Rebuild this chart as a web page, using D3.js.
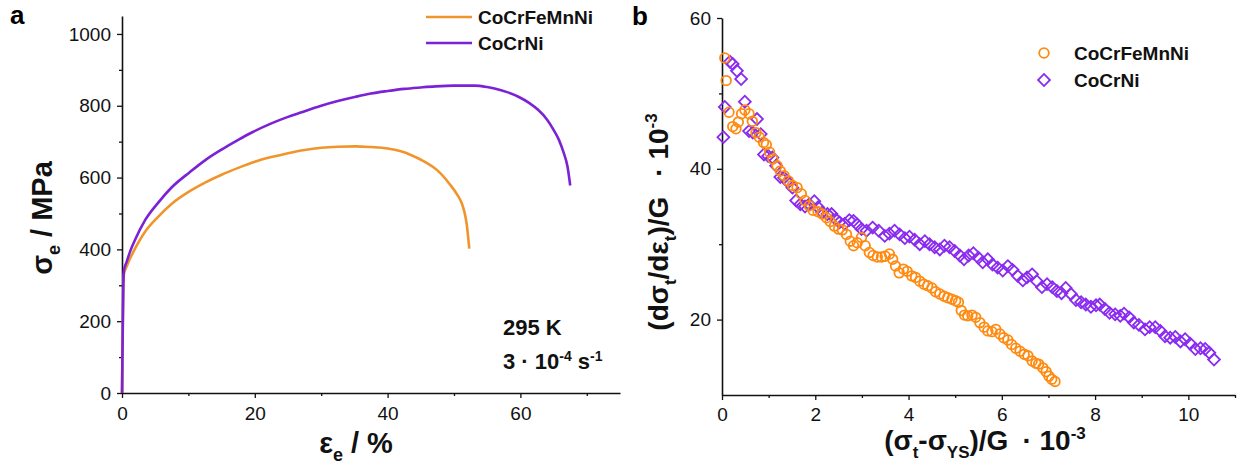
<!DOCTYPE html>
<html>
<head>
<meta charset="utf-8">
<script src="https://cdn.jsdelivr.net/npm/d3@7"></script>
<style>
  html, body { margin: 0; padding: 0; background: #fff; }
  svg { display: block; font-family: Arial, "Liberation Sans", sans-serif; }
</style>
</head>
<body>
<svg id="chart" width="1248" height="471"></svg>
<script>
// ---------- Data ----------
// Panel a: engineering stress-strain curves [strain %, stress MPa]
const seriesNames = ["CoCrFeMnNi", "CoCrNi"];
const curveCoCrFeMnNi = [
  [0, 0], [0.1, 150], [0.2, 290], [0.3, 332], [0.6, 348], [1.0, 366], [1.9, 400],
  [3.5, 450], [5.4, 490], [7.5, 527], [10.2, 562], [12.5, 586], [15, 608],
  [17.5, 627], [20, 644], [22.5, 657], [25, 668], [27.5, 677], [30, 683],
  [32.5, 686], [35.2, 687], [37.5, 685], [40, 681], [42, 673], [43.5, 663],
  [45.4, 646], [47.5, 620], [49.3, 583], [50.5, 552], [51.2, 527], [51.6, 502],
  [51.9, 472], [52.1, 440], [52.3, 402]
];
const curveCoCrNi = [
  [0, 0], [0.1, 160], [0.2, 300], [0.3, 342], [0.7, 365], [1.2, 393], [1.9, 424],
  [3.5, 482], [5.4, 529], [7.5, 573], [10.2, 615], [12.5, 648], [15, 678],
  [17.5, 705], [19.7, 727], [22.5, 751], [25, 769], [26.9, 781], [30, 800],
  [32.5, 813], [35.2, 825], [37.5, 834], [40, 841], [42.5, 847], [45, 851],
  [47.2, 854], [50, 856], [53.1, 856], [55, 852], [56.1, 848], [58, 838],
  [59.7, 825], [61.3, 808], [62.7, 788], [64, 762], [65, 733], [65.8, 705],
  [66.5, 670], [67.1, 630], [67.5, 578]
];
const xTicksA = [0, 20, 40, 60];
const xMinorA = [10, 30, 50, 70];
const yTicksA = [0, 200, 400, 600, 800, 1000];
const yMinorA = [100, 300, 500, 700, 900];

// Panel b: work hardening rate vs. flow stress increment
const ptsCoCrFeMnNi = [
  [0.06,54.7],[0.09,51.7],[0.15,47.5],[0.23,45.6],[0.30,45.3],[0.35,46.2],[0.42,47.3],
  [0.49,47.8],[0.58,47.3],[0.65,46.3],[0.73,44.8],[0.80,44.2],[0.89,43.5],[0.95,43.2],
  [1.02,42.2],[1.09,41.3],[1.18,40.4],[1.25,39.7],[1.33,39.1],[1.42,38.4],[1.51,37.8],
  [1.61,37.5],[1.70,36.7],[1.78,35.8],[1.87,35.1],[1.95,34.5],[2.06,34.3],[2.15,34.0],
  [2.24,33.5],[2.32,33.0],[2.41,32.4],[2.50,32.0],[2.58,31.9],[2.67,31.3],[2.75,30.4],
  [2.82,29.8],[2.90,30.2],[2.99,30.9],[3.07,29.8],[3.16,28.9],[3.24,28.5],[3.33,28.3],
  [3.42,28.3],[3.50,28.4],[3.59,28.7],[3.66,28.0],[3.72,27.1],[3.80,26.2],[3.89,26.7],
  [3.97,26.4],[4.07,25.8],[4.15,25.6],[4.24,25.1],[4.33,24.7],[4.41,24.5],[4.50,24.2],
  [4.58,23.7],[4.67,23.4],[4.76,23.1],[4.84,22.9],[4.93,22.7],[5.01,22.5],[5.07,22.3],
  [5.13,21.2],[5.20,20.6],[5.27,20.5],[5.36,20.6],[5.44,20.3],[5.53,19.6],[5.62,19.0],
  [5.70,18.5],[5.79,18.4],[5.87,18.7],[5.96,18.1],[6.04,17.6],[6.13,17.3],[6.21,16.7],
  [6.30,16.2],[6.39,15.8],[6.48,15.4],[6.56,15.2],[6.65,14.5],[6.73,14.2],[6.79,14.1],
  [6.88,13.6],[6.95,13.1],[7.01,12.5],[7.07,12.1],[7.14,11.8]
];
const ptsCoCrNi = [
  [0.03,44.2],[0.06,48.2],[0.17,54.2],[0.23,53.9],[0.32,53.0],[0.41,51.9],[0.49,48.9],
  [0.58,45.0],[0.66,44.8],[0.75,46.6],[0.83,44.6],[0.90,41.9],[0.99,41.7],[1.08,41.5],
  [1.16,40.4],[1.25,38.9],[1.33,38.8],[1.42,38.2],[1.51,37.5],[1.59,35.8],[1.68,35.3],
  [1.78,35.0],[1.87,35.3],[1.98,35.7],[2.06,34.9],[2.15,34.2],[2.26,34.0],[2.35,34.0],
  [2.44,33.3],[2.52,32.9],[2.63,32.7],[2.73,33.2],[2.82,33.1],[2.90,32.6],[2.99,32.0],
  [3.10,31.8],[3.23,32.2],[3.36,31.8],[3.49,31.1],[3.59,31.4],[3.70,31.8],[3.81,31.3],
  [3.92,30.8],[4.02,31.0],[4.13,30.6],[4.24,30.0],[4.35,30.4],[4.45,30.0],[4.56,29.6],
  [4.67,29.3],[4.77,29.8],[4.88,29.6],[4.99,29.1],[5.10,28.5],[5.19,28.0],[5.29,28.5],
  [5.39,28.8],[5.50,28.2],[5.59,27.6],[5.70,28.0],[5.80,27.3],[5.91,26.9],[6.02,26.5],
  [6.13,27.1],[6.23,26.6],[6.34,25.8],[6.45,25.2],[6.54,25.6],[6.65,26.0],[6.75,25.1],
  [6.86,24.3],[6.97,24.7],[7.08,24.3],[7.18,23.8],[7.28,23.5],[7.37,24.2],[7.48,23.4],
  [7.59,22.6],[7.70,22.3],[7.80,22.0],[7.91,21.7],[8.02,21.9],[8.10,22.0],[8.21,21.4],
  [8.31,20.9],[8.43,20.7],[8.54,20.5],[8.62,20.8],[8.73,20.3],[8.83,19.6],[8.94,19.3],
  [9.07,18.7],[9.17,19.0],[9.29,19.0],[9.40,18.5],[9.50,17.8],[9.61,17.6],[9.72,17.7],
  [9.83,17.1],[9.93,17.4],[10.04,16.8],[10.15,16.1],[10.26,16.2],[10.36,16.1],[10.45,15.6],
  [10.55,14.7]
];
const xTicksB = [0, 2, 4, 6, 8, 10];
const xMinorB = [1, 3, 5, 7, 9, 11];
const yTicksB = [20, 40, 60];
const yMinorB = [30, 50];

// ---------- Styles ----------
const orangeA = "#F0952C", purpleA = "#7B22D6";
const orangeB = "#FF8A10", purpleB = "#8A2BF0";

const svg = d3.select("#chart");

// rich text helper: segments [text, mode, dx] mode: 0 normal, 1 sub, 2 sup
function richText(g, segs, size) {
  const small = Math.round(size * 0.62);
  let state = 0;
  segs.forEach(([t, mode, dx]) => {
    const ts = g.append("tspan").text(t);
    const target = mode === 1 ? size * 0.28 : mode === 2 ? -size * 0.38 : 0;
    const dy = target - state;
    state = target;
    if (dy !== 0) ts.attr("dy", dy);
    if (dx) ts.attr("dx", dx);
    ts.attr("font-size", mode ? small : size);
  });
}

function drawAxes(g, x, y, xt, xm, yt, ym, xPad, yPad) {
  g.append("g").attr("transform", `translate(0,${y.range()[0]})`)
    .call(d3.axisBottom(x).tickValues(xt).tickSize(5).tickSizeOuter(0).tickPadding(xPad)
      .tickFormat(d3.format("d")));
  g.append("g").attr("transform", `translate(0,${y.range()[0]})`)
    .call(d3.axisBottom(x).tickValues(xm).tickSize(3).tickFormat(""))
    .call(s => s.select(".domain").remove());
  g.append("g").attr("transform", `translate(${x.range()[0]},0)`)
    .call(d3.axisLeft(y).tickValues(yt).tickSize(5).tickSizeOuter(0).tickPadding(yPad)
      .tickFormat(d3.format("d")));
  g.append("g").attr("transform", `translate(${x.range()[0]},0)`)
    .call(d3.axisLeft(y).tickValues(ym).tickSize(3).tickFormat(""))
    .call(s => s.select(".domain").remove());
  g.selectAll(".domain").attr("stroke", "#111").attr("stroke-width", 1.6);
  g.selectAll(".tick line").attr("stroke", "#111").attr("stroke-width", 1.3);
  g.selectAll(".tick text").attr("font-size", 19).attr("fill", "#111")
    .attr("font-family", "Arial, 'Liberation Sans', sans-serif");
}

// ---------- Panel a ----------
const ga = svg.append("g");
const xA = d3.scaleLinear().domain([0, 75]).range([122, 620]);
const yA = d3.scaleLinear().domain([0, 1050]).range([393, 16]);
drawAxes(ga, xA, yA, xTicksA, xMinorA, yTicksA, yMinorA, 9, 6);

const lineA = d3.line().x(d => xA(d[0])).y(d => yA(d[1])).curve(d3.curveMonotoneX);
ga.append("path").datum(curveCoCrFeMnNi).attr("d", lineA)
  .attr("fill", "none").attr("stroke", orangeA).attr("stroke-width", 2.6);
ga.append("path").datum(curveCoCrNi).attr("d", lineA)
  .attr("fill", "none").attr("stroke", purpleA).attr("stroke-width", 2.6);

// legend a
[orangeA, purpleA].forEach((c, i) => {
  const yy = 17 + i * 26;
  ga.append("line").attr("x1", 426).attr("x2", 472).attr("y1", yy).attr("y2", yy)
    .attr("stroke", c).attr("stroke-width", 2.6);
  ga.append("text").attr("x", 478).attr("y", yy + 6.5).attr("font-size", 19)
    .attr("font-weight", "bold").attr("fill", "#111").text(seriesNames[i]);
});

// annotation
ga.append("text").attr("x", 503).attr("y", 335).attr("font-size", 22).attr("font-weight", "bold")
  .attr("fill", "#111").text("295 K");
richText(ga.append("text").attr("x", 503).attr("y", 369).attr("font-weight", "bold").attr("fill", "#111"),
  [["3 · 10", 0], ["-4", 2], [" s", 0], ["-1", 2]], 22);

// titles a
richText(ga.append("text").attr("transform", "translate(52,218) rotate(-90)").attr("text-anchor", "middle")
  .attr("font-weight", "bold").attr("fill", "#111"), [["σ", 0], ["e", 1], [" / MPa", 0]], 29);
richText(ga.append("text").attr("x", 356).attr("y", 453).attr("text-anchor", "middle")
  .attr("font-weight", "bold").attr("fill", "#111"), [["ε", 0], ["e", 1], [" / %", 0]], 29);
ga.append("text").attr("x", 10).attr("y", 24).attr("font-size", 26).attr("font-weight", "bold")
  .attr("fill", "#000").text("a");

// ---------- Panel b ----------
const gb = svg.append("g");
const xB = d3.scaleLinear().domain([0, 11]).range([722, 1235]);
const yB = d3.scaleLinear().domain([10, 60]).range([395, 18]);
drawAxes(gb, xB, yB, xTicksB, xMinorB, yTicksB, yMinorB, 8, 6);

const diamond = d3.symbol().type(d3.symbolSquare).size(70);
gb.append("g").selectAll("path").data(ptsCoCrNi).join("path")
  .attr("d", diamond)
  .attr("transform", d => `translate(${xB(d[0])},${yB(d[1])}) rotate(45)`)
  .attr("fill", "none").attr("stroke", purpleB).attr("stroke-width", 1.8);
gb.append("g").selectAll("circle").data(ptsCoCrFeMnNi).join("circle")
  .attr("cx", d => xB(d[0])).attr("cy", d => yB(d[1])).attr("r", 4.8)
  .attr("fill", "none").attr("stroke", orangeB).attr("stroke-width", 1.8);

// legend b
gb.append("circle").attr("cx", 1044).attr("cy", 53).attr("r", 4.8)
  .attr("fill", "none").attr("stroke", orangeB).attr("stroke-width", 1.8);
gb.append("path").attr("d", diamond).attr("transform", "translate(1044,80) rotate(45)")
  .attr("fill", "none").attr("stroke", purpleB).attr("stroke-width", 1.8);
gb.append("text").attr("x", 1074).attr("y", 60).attr("font-size", 19).attr("font-weight", "bold")
  .attr("fill", "#111").text(seriesNames[0]);
gb.append("text").attr("x", 1074).attr("y", 87).attr("font-size", 19).attr("font-weight", "bold")
  .attr("fill", "#111").text(seriesNames[1]);

// titles b
richText(gb.append("text").attr("transform", "translate(668,222) rotate(-90)").attr("text-anchor", "middle")
  .attr("font-weight", "bold").attr("fill", "#111"),
  [["(dσ", 0], ["t", 1], ["/dε", 0], ["t", 1], [")/G", 0], ["·", 0, 20], [" 10", 0], ["-3", 2]], 28);
richText(gb.append("text").attr("x", 985).attr("y", 450).attr("text-anchor", "middle")
  .attr("font-weight", "bold").attr("fill", "#111"),
  [["(σ", 0], ["t", 1], ["-σ", 0], ["YS", 1], [")/G", 0], ["·", 0, 14], [" 10", 0], ["-3", 2]], 28);
gb.append("text").attr("x", 632).attr("y", 25).attr("font-size", 26).attr("font-weight", "bold")
  .attr("fill", "#000").text("b");
</script>
</body>
</html>
